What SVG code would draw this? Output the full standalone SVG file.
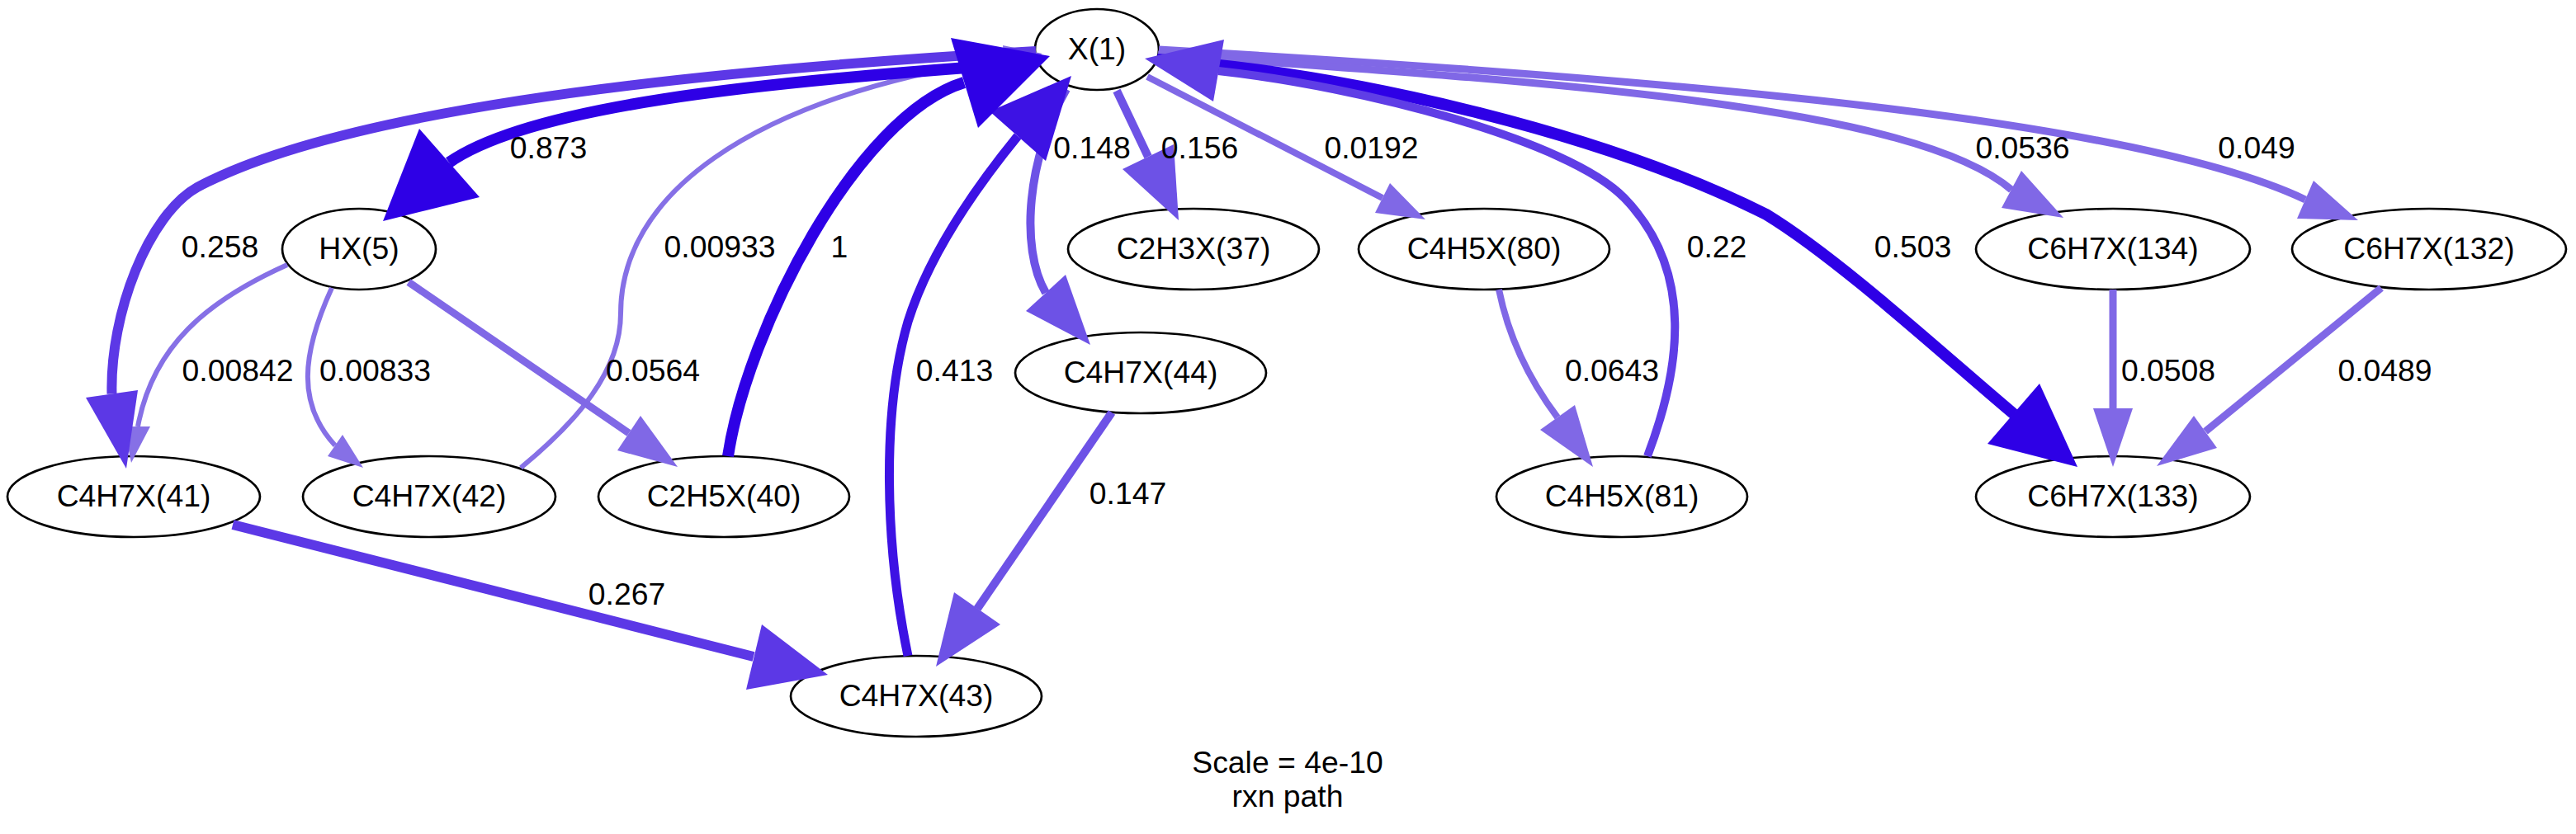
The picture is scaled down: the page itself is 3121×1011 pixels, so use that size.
<svg xmlns="http://www.w3.org/2000/svg" width="3121" height="1011" viewBox="0 0 3121 1011">
<style>
text{font-family:"Liberation Sans",Arial,Helvetica,sans-serif;font-size:37.33px;fill:#000;text-anchor:middle}
.node ellipse{fill:none;stroke:#000;stroke-width:2.7}
#edges path{fill:none;stroke-linecap:butt}
.d path{stroke:#2E00E6;stroke-width:14}.d polygon{fill:#2E00E6}
.d2 path{stroke:#3D12E4;stroke-width:11}.d2 polygon{fill:#3D12E4}
.m path{stroke:#5C38E6;stroke-width:12}.m polygon{fill:#5C38E6}
.m1 path{stroke:#5F3EE6;stroke-width:10}.m1 polygon{fill:#5F3EE6}
.m2 path{stroke:#6D52E6;stroke-width:10}.m2 polygon{fill:#6D52E6}
.l path{stroke:#8068E6;stroke-width:9}.l polygon{fill:#8068E6}
.l2 path{stroke:#8068E6;stroke-width:8}.l2 polygon{fill:#8068E6}
.v path{stroke:#8670E6;stroke-width:6}.v polygon{fill:#8670E6}
</style>
<rect width="3121" height="1011" fill="#fff"/>
<g id="nodes">
<g id="X1" class="node"><ellipse cx="1329" cy="60" rx="75" ry="49"/><text x="1329" y="72">X(1)</text></g>
<g id="HX5" class="node"><ellipse cx="435" cy="302" rx="93" ry="49"/><text x="435" y="314">HX(5)</text></g>
<g id="C2H3X37" class="node"><ellipse cx="1446" cy="302" rx="152" ry="49"/><text x="1446" y="314">C2H3X(37)</text></g>
<g id="C4H5X80" class="node"><ellipse cx="1798" cy="302" rx="152" ry="49"/><text x="1798" y="314">C4H5X(80)</text></g>
<g id="C6H7X134" class="node"><ellipse cx="2560" cy="302" rx="166" ry="49"/><text x="2560" y="314">C6H7X(134)</text></g>
<g id="C6H7X132" class="node"><ellipse cx="2943" cy="302" rx="166" ry="49"/><text x="2943" y="314">C6H7X(132)</text></g>
<g id="C4H7X44" class="node"><ellipse cx="1382" cy="452" rx="152" ry="49"/><text x="1382" y="464">C4H7X(44)</text></g>
<g id="C4H7X41" class="node"><ellipse cx="162" cy="602" rx="153" ry="49"/><text x="162" y="614">C4H7X(41)</text></g>
<g id="C4H7X42" class="node"><ellipse cx="520" cy="602" rx="153" ry="49"/><text x="520" y="614">C4H7X(42)</text></g>
<g id="C2H5X40" class="node"><ellipse cx="877" cy="602" rx="152" ry="49"/><text x="877" y="614">C2H5X(40)</text></g>
<g id="C4H5X81" class="node"><ellipse cx="1965" cy="602" rx="152" ry="49"/><text x="1965" y="614">C4H5X(81)</text></g>
<g id="C6H7X133" class="node"><ellipse cx="2560" cy="602" rx="166" ry="49"/><text x="2560" y="614">C6H7X(133)</text></g>
<g id="C4H7X43" class="node"><ellipse cx="1110" cy="844" rx="152" ry="49"/><text x="1110" y="856">C4H7X(43)</text></g>
</g>
<g id="edges">
<g class="v"><path d="M631,567 C700,510 752,450 752,380 C752,240 900,120 1216,71"/><polygon points="1215,55 1263,65 1218,87"/><text x="872" y="312">0.00933</text></g>
<g class="v"><path d="M348,321 C250,365 185,420 167,517"/><polygon points="150,517 159,561 182,517"/><text x="288" y="462">0.00842</text></g>
<g class="v"><path d="M402,349 C365,430 360,490 406,540"/><polygon points="397,553 440,567 415,527"/><text x="454.5" y="462">0.00833</text></g>
<g class="l"><path d="M495,342 L762,525"/><polygon points="748,546 821,566 776,504"/><text x="791" y="462">0.0564</text></g>
<g class="m"><path d="M1255,62 C850,85 420,130 239,227 C180,260 133,380 135.5,477.5"/><polygon points="104,482 153,568 167,473"/><text x="266.5" y="312">0.258</text></g>
<g class="d"><path d="M1256,76 C900,100 640,130 544,197"/><polygon points="508,156 464,268 581,239"/><text x="664.5" y="192">0.873</text></g>
<g class="m2"><path d="M1292,108 C1245,190 1235,300 1267,355"/><polygon points="1243,377 1321,418 1291,333"/><text x="1323" y="192">0.148</text></g>
<g class="d2"><path d="M1100,795 C1072,660 1068,500 1100,390 C1125,310 1180,230 1233,165"/><polygon points="1199,135 1298,92 1267,195"/><text x="1156.5" y="462">0.413</text></g>
<g class="d"><path d="M882,553 C905,400 1038,140 1168,100"/><polygon points="1152,46 1272,68 1185,155"/><text x="1017" y="312">1</text></g>
<g class="m2"><path d="M1353,110 L1391,190"/><polygon points="1360,205 1428,267 1422,175"/><text x="1453.5" y="192">0.156</text></g>
<g class="l2"><path d="M1390,93 L1675,240"/><polygon points="1666,258 1727,266 1684,222"/><text x="1661.5" y="192">0.0192</text></g>
<g class="l"><path d="M1404,60 C2100,100 2600,150 2793,242"/><polygon points="2783,265 2857,267 2803,219"/><text x="2734" y="192">0.049</text></g>
<g class="l"><path d="M1403,66 C1900,100 2320,130 2437,230"/><polygon points="2425,252 2500,264 2449,207"/><text x="2450.5" y="192">0.0536</text></g>
<g class="d"><path d="M1402,72 C1650,90 1950,165 2140,260 C2230,315 2360,435 2440,502"/><polygon points="2408,538 2517,566 2471,465"/><text x="2317.5" y="312">0.503</text></g>
<g class="m1"><path d="M1996,553 C2035,450 2055,330 1968,240 C1900,170 1650,105 1476,86"/><polygon points="1483,48 1387,71 1470,123"/><text x="2080" y="312">0.22</text></g>
<g class="l2"><path d="M1816,351 C1830,420 1860,470 1887,506"/><polygon points="1866,521 1930,566 1908,491"/><text x="1953" y="462">0.0643</text></g>
<g class="l"><path d="M2560,351 L2560,495"/><polygon points="2536,495 2560,566 2584,495"/><text x="2627" y="462">0.0508</text></g>
<g class="l"><path d="M2885,349 L2672,523"/><polygon points="2658,504 2613,565 2686,543"/><text x="2889.5" y="462">0.0489</text></g>
<g class="m2"><path d="M1347,500 L1184,738"/><polygon points="1156,718 1134,808 1212,757"/><text x="1366.5" y="611">0.147</text></g>
<g class="m"><path d="M282,636 L913,796"/><polygon points="923,757 1003,818 904,836"/><text x="759.5" y="733">0.267</text></g>
</g>
<g id="graph-label"><text x="1560" y="937">Scale = 4e-10</text><text x="1560" y="978">rxn path</text></g>
</svg>
